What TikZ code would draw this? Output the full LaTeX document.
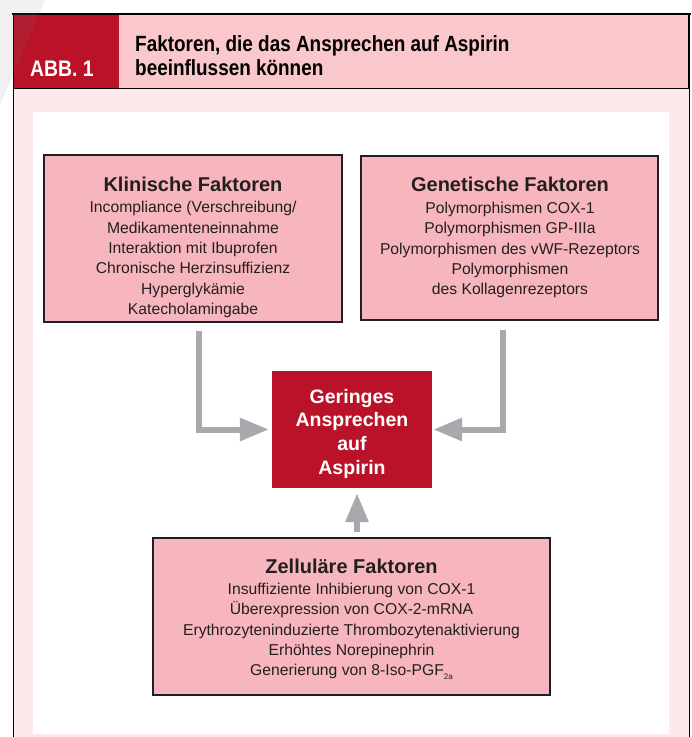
\documentclass[tikz,border=0pt]{standalone}
\usepackage{fontspec}
\setmainfont{Liberation Sans}
\newfontfamily\condf{Liberation Sans}[FakeStretch=0.86]
\usetikzlibrary{arrows.meta}
\definecolor{darkred}{RGB}{186,18,40}
\definecolor{headpink}{RGB}{249,199,204}
\definecolor{palepink}{RGB}{253,233,235}
\definecolor{boxpink}{RGB}{247,182,190}
\definecolor{arrowgray}{RGB}{167,169,172}
\definecolor{inkc}{RGB}{35,31,32}
\newcommand\boxttl[1]{{\fontsize{20}{20}\selectfont\bfseries #1}}
\begin{document}
\begin{tikzpicture}[x=1pt,y=-1pt,
  factorbox/.style={draw=inkc, line width=1.2pt, fill=boxpink, inner sep=0pt},
  boxtext/.style={align=center, inner sep=0pt, anchor=north, text=inkc,
    font=\fontsize{15.7}{20.3}\selectfont},
  redbox/.style={fill=darkred, inner sep=0pt, align=center, text=white,
    font=\fontsize{19.5}{23.7}\selectfont\bfseries},
  flow/.style={draw=arrowgray, line width=6pt, -{Triangle[width=22pt,length=29pt]}}
]
\useasboundingbox (0,0) rectangle (692,737);
% frame and panels
\fill[darkred] (13,15) rectangle (119,88);
\fill[headpink] (119,15) rectangle (689,88);
\fill[palepink] (13,88) rectangle (689,737);
\fill[white] (33,112) rectangle (669,734);
\draw[line width=2.6pt] (12,14) -- (690.5,14);
\draw[line width=1.3pt] (13.3,13) -- (13.3,737);
\draw[line width=2pt] (689.3,13) -- (689.3,88);
\draw[line width=1.2pt] (689.3,88) -- (689.3,737);
\draw[line width=1.2pt] (13,88.5) -- (689,88.5);
\fill[gray, opacity=0.12] (0,0) -- (45,0) .. controls (30,35) and (15,70) .. (0,105) -- cycle;
% header texts
\node[anchor=base west, inner sep=0pt, text=white,
  font=\condf\bfseries\fontsize{22.5}{25}\selectfont] (abb) at (30,76.5) {ABB.~1};
\node[anchor=north west, align=left, inner sep=0pt, text=black,
  font=\condf\bfseries\fontsize{22}{24.5}\selectfont] (title) at (135,35)
  {Faktoren, die das Ansprechen auf Aspirin\\beeinflussen können};
% boxes
\node[factorbox, minimum width=298pt, minimum height=167pt] (kl) at (193,238.5) {};
\node[boxtext] (klt) at (193,176.5) {\boxttl{Klinische Faktoren}\\[1.5pt]
  Incompliance (Verschreibung/\\Medikamenteneinnahme\\Interaktion mit Ibuprofen\\
  Chronische Herzinsuffizienz\\Hyperglykämie\\Katecholamingabe};
\node[factorbox, minimum width=297pt, minimum height=164pt] (ge) at (509.5,238) {};
\node[boxtext] (get) at (510,177) {\boxttl{Genetische Faktoren}\\[1.5pt]
  Polymorphismen COX-1\\Polymorphismen GP-IIIa\\Polymorphismen des vWF-Rezeptors\\
  Polymorphismen\\des Kollagenrezeptors};
\node[redbox, minimum width=160pt, minimum height=117pt] (red) at (352,429.5)
  {\rule{0pt}{22.5pt}Geringes\\Ansprechen\\auf\\Aspirin};
\node[factorbox, minimum width=397pt, minimum height=157pt] (zel) at (351.5,616.5) {};
\node[boxtext] (zelt) at (351.5,558.5) {\boxttl{Zelluläre Faktoren}\\[1pt]
  Insuffiziente Inhibierung von COX-1\\Überexpression von COX-2-mRNA\\
  Erythrozyteninduzierte Thrombozytenaktivierung\\Erhöhtes Norepinephrin\\
  Generierung von 8-Iso-PGF\raisebox{-4pt}{\fontsize{8}{8}\selectfont 2a}};
% connectors
\draw[flow, shorten >=3pt] ([xshift=5.5pt]kl.south) ++(0,8) |- (red.west);
\draw[flow, shorten >=1pt] ([xshift=-6.5pt]ge.south) ++(0,9) |- (red.east);
\draw[flow, shorten >=5pt] ([xshift=5pt]red.south |- zel.north) ++(0,-5) -- ([xshift=5pt]red.south);
\end{tikzpicture}
\end{document}
